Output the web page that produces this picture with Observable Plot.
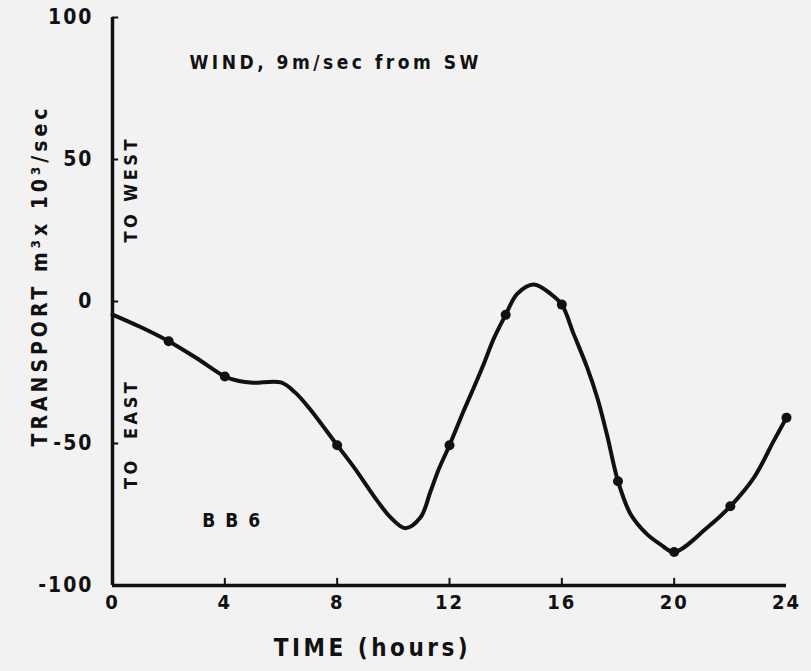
<!DOCTYPE html>
<html><head><meta charset="utf-8">
<script src="https://cdn.jsdelivr.net/npm/d3@7"></script>
<script src="https://cdn.jsdelivr.net/npm/@observablehq/plot@0.6"></script>
<style>
html,body{margin:0;padding:0;background:#f2f2f2;}
#chart svg text{letter-spacing:2px;}
#chart svg .wide text{letter-spacing:3.5px;}
#chart svg .ylab text{letter-spacing:4px;}
</style></head><body><div id="chart"></div><script>
// curve (hours, transport m^3 x 10^3 / sec)
const curveHours = [0,1,2,3,4,4.5,5,6,6.5,7,8,8.6,9.43,9.9,10.43,10.97,11.32,11.62,12,12.51,12.87,13.22,13.58,14,14.41,15,15.6,16,16.42,16.9,17.26,17.61,18,18.45,19.04,19.51,20,21.18,22,22.84,23.55,24];
const curveTransport = [-4.6,-9,-14,-20,-26.4,-28,-28.6,-28.5,-32,-37.5,-50.6,-58.4,-70.2,-76,-79.8,-76,-67,-59,-50.6,-38.4,-30.2,-22,-13,-4.7,2.7,6,2.7,-1.1,-11.4,-23.2,-33.8,-47,-63.3,-74.9,-82,-85.5,-88.2,-79.6,-72.1,-62,-49,-40.9];
// measured points (dots)
const markerHours = [2,4,8,12,14,16,18,20,22,24];
const markerTransport = [-14,-26.4,-50.6,-50.6,-4.7,-1.1,-63.3,-88.2,-72.1,-40.9];
// axis ticks
const xTicks = [0,4,8,12,16,20,24];
const yTicks = [-100,-50,0,50,100];

const curve = curveHours.map((h,i)=>({h, v: curveTransport[i]}));
const markers = markerHours.map((h,i)=>({h, v: markerTransport[i]}));
const ink = "#111";
const font = "'Liberation Sans Narrow','DejaVu Sans Condensed','DejaVu Sans',sans-serif";

const chart = Plot.plot({
  width: 811, height: 671,
  marginLeft: 112, marginRight: 25, marginTop: 17, marginBottom: 86,
  style: {background: "#f2f2f2", fontFamily: font, color: ink},
  x: {domain: [0, 24]},
  y: {domain: [-100, 100]},
  marks: [
    Plot.axisX({ticks: xTicks, tickSize: 0, tickPadding: 9, fontSize: 20, fontWeight: "bold", label: null, tickFormat: d => String(d)}),
    Plot.axisY({ticks: yTicks, tickSize: 0, tickPadding: 19, fontSize: 21, fontWeight: "bold", label: null, tickFormat: d => d < 0 ? "-" + Math.abs(d) : String(d)}),
    Plot.ruleX([0], {stroke: ink, strokeWidth: 3.5}),
    Plot.ruleY([-100], {stroke: ink, strokeWidth: 3.5}),
    Plot.ruleY(yTicks.filter(d => d > -100), {x1: 0, x2: 0.22, stroke: ink, strokeWidth: 2}),
    Plot.ruleX(xTicks.filter(d => d > 0 && d < 24), {y1: -100, y2: -97.5, stroke: ink, strokeWidth: 2}),
    Plot.line(curve, {x: "h", y: "v", curve: "catmull-rom", stroke: ink, strokeWidth: 4}),
    Plot.dot(markers, {x: "h", y: "v", r: 5, fill: ink}),
    Plot.text(["WIND, 9m/sec from SW"], {x: 2.74, y: 84, textAnchor: "start", fontSize: 19, fontWeight: "bold", fill: ink, className: "wide"}),
    Plot.text(["B B 6"], {x: 3.2, y: -77.2, textAnchor: "start", fontSize: 19, fontWeight: "bold", fill: ink}),
    Plot.text(["TO WEST"], {x: 0.68, y: 39.5, rotate: -90, fontSize: 18, fontWeight: "bold", fill: ink, className: "wide"}),
    Plot.text(["TO  EAST"], {x: 0.68, y: -46.6, rotate: -90, fontSize: 18, fontWeight: "bold", fill: ink, className: "wide"}),
    Plot.text(["TRANSPORT m³x 10³/sec"], {frameAnchor: "left", textAnchor: "middle", dx: -72, dy: -26, rotate: -90, fontSize: 21, fontWeight: "bold", fill: ink, className: "ylab"}),
    Plot.text(["TIME (hours)"], {frameAnchor: "bottom", textAnchor: "middle", dx: -77, dy: 70, fontSize: 24, fontWeight: "bold", fill: ink, className: "wide"})
  ]
});
document.getElementById("chart").append(chart);
</script></body></html>
